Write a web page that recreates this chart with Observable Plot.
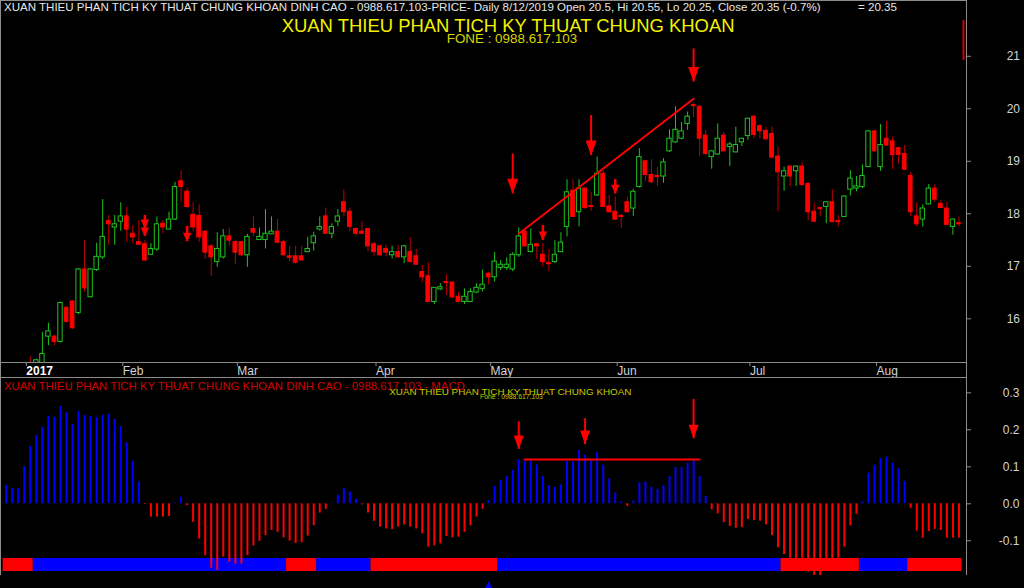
<!DOCTYPE html>
<html><head><meta charset="utf-8">
<script src="https://cdn.jsdelivr.net/npm/d3@7"></script>
<script src="https://cdn.jsdelivr.net/npm/@observablehq/plot@0.6"></script>
<style>
html,body{margin:0;padding:0;background:#000;overflow:hidden}
#wrap{position:relative;width:1024px;height:588px;background:#000;overflow:hidden}
#wrap svg{display:block}
.t{position:absolute;white-space:nowrap;font-family:"Liberation Sans",Arial,sans-serif;line-height:1}
#frame{position:absolute;left:0;top:0;width:965px;height:574px;border:1px solid #8c8c8c;border-bottom:none;pointer-events:none}
</style></head><body><div id="wrap"></div>
<script>
// ---------- DATA ----------
const openP = [14.95,15.00,14.95,15.00,15.15,15.05,15.05,15.66,15.66,15.56,16.21,16.33,16.11,16.94,16.41,16.93,17.17,17.86,17.74,17.85,
17.95,17.62,17.46,17.42,17.22,17.32,17.81,17.70,17.89,18.62,18.42,17.98,17.96,17.66,17.38,17.08,17.17,17.57,17.46,17.46,
17.21,17.71,17.50,17.50,17.61,17.66,17.46,17.19,17.19,17.19,17.27,17.44,17.70,17.95,17.62,17.85,18.22,18.04,17.71,17.66,
17.71,17.42,17.38,17.33,17.21,17.27,17.17,17.27,17.19,16.89,16.81,16.32,16.56,16.70,16.69,16.42,16.32,16.32,16.50,16.57,
16.86,16.79,16.97,16.97,16.94,17.21,17.66,17.27,17.42,17.22,17.06,17.08,17.27,17.75,18.44,18.03,18.48,18.15,18.35,18.76,
18.14,18.04,17.96,18.22,18.10,18.51,19.00,18.74,18.72,18.71,19.19,19.36,19.43,19.71,20.07,20.04,19.49,19.08,19.13,19.49,
19.27,19.17,19.36,19.48,19.85,19.67,19.58,19.52,19.09,18.71,18.90,18.81,18.90,18.57,18.04,18.11,18.13,18.22,17.86,17.94,
18.46,18.48,18.51,18.89,19.57,18.89,19.43,19.38,19.25,19.14,18.72,17.95,17.89,18.18,18.48,18.19,18.10,17.75,17.82];
const highP = [15.05,15.08,15.05,15.10,15.28,15.23,15.74,15.92,15.68,16.32,16.22,16.34,16.96,17.49,16.95,17.44,18.27,17.97,17.97,18.21,
18.12,17.78,17.87,17.49,17.43,17.94,17.87,18.03,18.60,18.82,18.49,18.21,18.17,17.68,17.42,17.64,17.70,17.73,17.49,17.47,
17.61,17.94,17.73,18.08,17.94,17.89,17.50,17.38,17.38,17.38,17.55,17.65,17.94,18.11,17.81,18.08,18.46,18.11,17.73,17.85,
17.72,17.46,17.40,17.40,17.38,17.40,17.40,17.55,17.32,17.02,17.07,16.59,16.67,16.84,16.71,16.50,16.57,16.57,16.67,16.93,
16.89,17.26,17.11,17.16,17.26,17.73,17.68,17.71,17.44,17.43,17.32,17.49,17.64,18.65,18.65,18.65,18.50,18.41,19.08,18.82,
18.35,18.32,17.99,18.32,18.46,19.24,19.02,19.03,18.88,19.05,19.60,20.04,19.74,19.94,20.11,20.06,19.59,19.21,19.71,19.55,
19.36,19.65,19.44,19.82,19.87,19.70,19.65,19.65,19.27,18.89,18.91,18.91,18.97,18.59,18.21,18.13,18.23,18.46,17.97,18.34,
18.82,18.71,18.93,19.58,19.58,19.70,19.76,19.46,19.26,19.30,18.79,18.21,18.17,18.56,18.56,18.25,18.21,17.90,17.94];
const lowP = [14.85,14.90,14.85,14.90,14.90,15.00,15.00,15.49,15.49,15.54,15.92,15.80,16.08,16.51,16.40,16.90,17.13,17.40,17.40,17.67,
17.46,17.43,17.40,17.09,17.21,17.28,17.62,17.70,17.87,18.22,18.10,17.66,17.46,17.13,16.81,16.98,17.14,17.38,17.03,17.19,
16.98,17.57,17.49,17.33,17.61,17.43,17.20,17.09,17.04,17.10,17.26,17.29,17.67,17.61,17.52,17.76,17.94,17.66,17.57,17.61,
17.28,17.19,17.20,17.18,17.14,17.17,17.05,17.07,17.02,16.69,16.31,16.27,16.54,16.44,16.38,16.31,16.27,16.31,16.48,16.51,
16.65,16.70,16.92,16.92,16.90,17.17,17.36,17.26,17.13,16.98,16.90,17.05,17.26,17.56,17.93,17.75,18.08,18.05,18.33,18.12,
18.01,17.87,17.72,18.01,17.95,18.49,18.62,18.58,18.52,18.58,19.17,19.34,19.41,19.59,19.83,19.09,19.11,18.85,19.11,19.17,
18.90,19.16,19.28,19.40,19.43,19.43,19.40,19.05,18.04,18.43,18.52,18.52,18.52,17.87,17.84,17.95,17.81,17.83,17.75,17.93,
18.34,18.42,18.48,18.88,19.18,18.81,19.29,18.84,18.95,18.82,17.95,17.75,17.75,18.17,18.22,18.11,17.78,17.59,17.75];
const closeP = [15.00,14.95,15.00,15.05,15.00,15.21,15.33,15.76,15.56,16.30,15.94,15.82,16.94,16.58,16.94,17.18,17.56,17.80,17.80,17.95,
17.70,17.55,17.41,17.11,17.33,17.80,17.74,17.89,18.51,18.51,18.13,17.74,17.55,17.26,17.17,17.33,17.57,17.49,17.26,17.21,
17.56,17.64,17.56,17.62,17.66,17.45,17.21,17.16,17.07,17.11,17.33,17.57,17.75,17.62,17.75,17.95,18.03,17.75,17.62,17.62,
17.38,17.27,17.21,17.26,17.27,17.17,17.38,17.08,17.03,16.79,16.32,16.59,16.60,16.68,16.41,16.32,16.42,16.51,16.59,16.65,
16.79,17.09,17.03,17.03,17.22,17.57,17.38,17.41,17.38,17.08,17.04,17.22,17.45,18.41,17.94,18.48,18.11,18.13,18.76,18.13,
18.03,17.89,17.94,18.03,18.42,19.08,18.74,18.60,18.70,18.98,19.43,19.60,19.57,19.85,20.05,19.43,19.14,19.19,19.43,19.19,
19.32,19.31,19.43,19.81,19.50,19.57,19.42,19.07,18.79,18.81,18.71,18.90,18.55,18.03,17.85,18.09,18.22,17.84,17.84,18.33,
18.67,18.52,18.72,19.57,19.19,19.31,19.30,19.12,19.12,18.84,18.03,17.80,18.10,18.48,18.27,18.11,17.79,17.89,17.80];
const macdHist = [0.050,0.041,0.041,0.101,0.155,0.185,0.207,0.237,0.233,0.263,0.246,0.214,0.250,0.239,0.236,0.233,0.239,0.243,0.228,0.209,
0.165,0.114,0.059,-0.002,-0.036,-0.036,-0.036,-0.034,0.002,0.018,-0.005,-0.050,-0.095,-0.140,-0.174,-0.180,-0.144,-0.158,-0.163,-0.163,
-0.140,-0.114,-0.101,-0.086,-0.072,-0.077,-0.092,-0.101,-0.107,-0.105,-0.087,-0.059,-0.025,-0.015,0.002,0.023,0.041,0.032,0.012,-0.003,
-0.025,-0.047,-0.063,-0.068,-0.070,-0.063,-0.057,-0.063,-0.068,-0.081,-0.117,-0.114,-0.108,-0.088,-0.092,-0.090,-0.077,-0.060,-0.036,-0.015,
0.009,0.047,0.063,0.074,0.090,0.119,0.115,0.115,0.105,0.074,0.049,0.044,0.051,0.114,0.114,0.144,0.131,0.115,0.139,0.104,
0.067,0.029,0.005,-0.007,0.007,0.057,0.059,0.045,0.039,0.049,0.074,0.098,0.098,0.110,0.117,0.074,0.020,-0.016,-0.027,-0.051,
-0.061,-0.066,-0.064,-0.042,-0.045,-0.047,-0.057,-0.086,-0.119,-0.137,-0.147,-0.149,-0.147,-0.185,-0.194,-0.194,-0.150,-0.150,-0.147,-0.117,
-0.060,-0.028,0.005,0.083,0.104,0.122,0.126,0.110,0.095,0.060,-0.012,-0.074,-0.093,-0.075,-0.069,-0.072,-0.093,-0.093,-0.093];
const monthTicks = [3,19,38,61,80,101,123,144];
const monthLabels = ["2017","Feb","Mar","Apr","May","Jun","Jul","Aug"];
const priceTicks = [16,17,18,19,20,21];
const macdTicks = [-0.1,0,0.1,0.2,0.3];
const stripStart = [0,5,47,52,61,82,129,142,150];
const stripEnd   = [4,46,51,60,81,128,141,149,158];
const stripUp    = [false,true,false,true,false,true,false,true,false];
const trendBars = [85,114];
const trendValues = [17.62,20.19];
const bigArrowBars = [84,97,114];
const bigArrowTop = [19.14,19.87,21.14];
const bigArrowTip = [18.38,19.11,20.51];
const smallArrowBars = [23,23,30,89,101];
const smallArrowTop = [17.97,17.84,17.76,17.78,18.65];
const smallArrowTip = [17.72,17.57,17.47,17.49,18.38];
const macdArrowBars = [85,96,114];
const macdArrowTop = [0.221,0.230,0.282];
const macdArrowTip = [0.147,0.160,0.176];
const macdLineBars = [86,115];
const macdLineValues = [0.12,0.12];
const buyMarkBars = [80];
const buyMarkValues = [-0.2235];
const lastMarkerBar = [158.75];
const lastMarkerRange = [20.92,21.68];
const texts = {
  header: "XUAN THIEU PHAN TICH KY THUAT CHUNG KHOAN DINH CAO - 0988.617.103-PRICE- Daily 8/12/2019 Open 20.5, Hi 20.55, Lo 20.25, Close 20.35 (-0.7%)",
  headerValue: "= 20.35",
  title: "XUAN THIEU PHAN TICH KY THUAT CHUNG KHOAN",
  fone: "FONE : 0988.617.103",
  macdTitle: "XUAN THIEU PHAN TICH KY THUAT CHUNG KHOAN DINH CAO - 0988.617.103 - MACD",
  macdBrand: "XUAN THIEU PHAN TICH KY THUAT CHUNG KHOAN",
  macdFone: "Fone : 0988.617.103"
};

// ---------- LAYOUT ----------
const W = 1024, MR = 58, X0 = 5.7, DX = 6.03;
const xDomain = [(0 - X0) / DX, (W - MR - X0) / DX];
const GREEN = "#1ec31e", RED = "#ff0000", DRED = "#c00000", BLUE = "#0000ff", GREY = "#8c8c8c", LABEL = "#d4d4d4";
const FONT = "Liberation Sans, Arial, sans-serif";
const priceDomain = [20 - (362 - 108.3) / 52.5, 20 + 108.3 / 52.5];
const macdDomain = [(126.3 - 198) / 370, 126.3 / 370];
const STRIP_TOP = (126.3 - 181) / 370, STRIP_BOTTOM = (126.3 - 194) / 370;

const candles = openP.map((o, i) => ({i, o, h: highP[i], l: lowP[i], c: closeP[i]}));
const up = candles.filter(d => d.c >= d.o), down = candles.filter(d => d.c < d.o);
const bigArrows = bigArrowBars.map((b, k) => ({b, top: bigArrowTop[k], tip: bigArrowTip[k]}));
const smallArrows = smallArrowBars.map((b, k) => ({b, top: smallArrowTop[k], tip: smallArrowTip[k]}));
const macdArrows = macdArrowBars.map((b, k) => ({b, top: macdArrowTop[k], tip: macdArrowTip[k]}));
const trend = trendBars.map((b, k) => ({b, v: trendValues[k]}));
const macdLine = macdLineBars.map((b, k) => ({b, v: macdLineValues[k]}));
const macdData = macdHist.map((v, i) => ({i, v}));
const strip = stripStart.map((s, k) => ({s, e: stripEnd[k], up: stripUp[k]}));
const buyMarks = buyMarkBars.map((b, k) => ({b, v: buyMarkValues[k]}));

function head(w, h) {
  return {draw(ctx) { ctx.moveTo(-w / 2, -h); ctx.lineTo(w / 2, -h); ctx.lineTo(0, 0); ctx.closePath(); }};
}
const style = {background: "#000", color: LABEL, fontFamily: FONT, fontSize: "12px", overflow: "visible"};

const price = Plot.plot({
  width: W, height: 377, marginTop: 0, marginRight: MR, marginBottom: 15, marginLeft: 0,
  style,
  x: {domain: xDomain},
  y: {domain: priceDomain},
  marks: [
    Plot.ruleX(candles, {x: "i", y1: "l", y2: "h", stroke: d => d.c >= d.o ? GREEN : DRED, strokeWidth: 1, clip: true}),
    Plot.rect(down, {x1: d => d.i - 0.31, x2: d => d.i + 0.31, y1: "o", y2: "c", fill: RED, stroke: RED, strokeWidth: 1, clip: true}),
    Plot.rect(up, {x1: d => d.i - 0.36, x2: d => d.i + 0.36, y1: "o", y2: "c", fill: "#000", stroke: GREEN, strokeWidth: 1, clip: true}),
    Plot.line(trend, {x: "b", y: "v", stroke: RED, strokeWidth: 2}),
    Plot.ruleX(bigArrows, {x: "b", y1: "top", y2: "tip", stroke: RED, strokeWidth: 2}),
    Plot.dot(bigArrows, {x: "b", y: "tip", symbol: head(11, 15), r: 5, fill: RED, stroke: "none"}),
    Plot.ruleX(smallArrows, {x: "b", y1: "top", y2: "tip", stroke: RED, strokeWidth: 2.5}),
    Plot.dot(smallArrows, {x: "b", y: "tip", symbol: head(8.5, 9), r: 4, fill: RED, stroke: "none"}),
    Plot.ruleX(lastMarkerBar, {x: d => d, y1: lastMarkerRange[0], y2: lastMarkerRange[1], stroke: "#d00000", strokeWidth: 2}),
    Plot.ruleY([priceDomain[0]], {stroke: GREY}),
    Plot.axisY({anchor: "right", ticks: priceTicks, tickSize: 4, tickPadding: 49.5, textAnchor: "end",
      fill: LABEL, stroke: GREY, fontSize: 12, label: null, tickFormat: d => String(d)}),
    Plot.axisX({anchor: "bottom", ticks: monthTicks.slice(1), tickSize: 4, tickPadding: 0, textAnchor: "start", dx: 2,
      fill: LABEL, stroke: GREY, fontSize: 12, label: null, tickFormat: d => monthLabels[monthTicks.indexOf(d)]}),
    Plot.axisX({anchor: "bottom", ticks: monthTicks.slice(0, 1), tickSize: 4, tickPadding: 0, textAnchor: "start", dx: 2,
      fill: "#ffffff", stroke: GREY, fontSize: 12, fontWeight: "bold", label: null, tickFormat: d => monthLabels[monthTicks.indexOf(d)]})
  ]
});

const macd = Plot.plot({
  width: W, height: 211, marginTop: 0, marginRight: MR, marginBottom: 13, marginLeft: 0,
  style,
  x: {domain: xDomain, axis: null},
  y: {domain: macdDomain},
  marks: [
    Plot.ruleY([macdDomain[1]], {stroke: GREY}),
    Plot.rect(strip, {x1: d => d.s - 0.5, x2: d => d.e + 0.5, y1: STRIP_TOP, y2: STRIP_BOTTOM, fill: d => d.up ? BLUE : RED}),
    Plot.ruleX(macdData, {x: "i", y1: 0, y2: "v", stroke: d => d.v >= 0 ? BLUE : RED, strokeWidth: 2}),
    Plot.line(macdLine, {x: "b", y: "v", stroke: RED, strokeWidth: 2}),
    Plot.ruleX(macdArrows, {x: "b", y1: "top", y2: "tip", stroke: RED, strokeWidth: 2}),
    Plot.dot(macdArrows, {x: "b", y: "tip", symbol: head(10, 14), r: 5, fill: RED, stroke: "none"}),
    Plot.dot(buyMarks, {x: "b", y: "v", symbol: "triangle", r: 3.2, fill: BLUE, stroke: "none"}),
    Plot.axisY({anchor: "right", ticks: macdTicks, tickSize: 4, tickPadding: 49, textAnchor: "end",
      fill: LABEL, stroke: GREY, fontSize: 12, label: null, tickFormat: d => d.toFixed(1)})
  ]
});

const wrap = document.getElementById("wrap");
wrap.appendChild(price);
wrap.appendChild(macd);
const frame = document.createElement("div"); frame.id = "frame"; wrap.appendChild(frame);

function place(text, left, width, capCenter, color, weight) {
  const el = document.createElement("div");
  el.className = "t"; el.textContent = text; el.style.color = color;
  if (weight) el.style.fontWeight = weight;
  el.style.fontSize = "100px"; el.style.left = "0px"; el.style.top = "0px";
  wrap.appendChild(el);
  const w = el.getBoundingClientRect().width;
  const fs = 100 * width / w;
  el.style.fontSize = fs + "px";
  el.style.left = left + "px";
  el.style.top = (capCenter - 0.488 * fs) + "px";
}
place(texts.header, 4, 817.7, 7.8, "#e6e6e6");
place(texts.headerValue, 858, 39, 7.8, "#e6e6e6");
place(texts.title, 281.7, 453.3, 26.3, "#f2f200");
place(texts.fone, 446.7, 130.6, 38.5, "#d6d600");
place(texts.macdTitle, 4, 461, 386.3, "#d00000");
place(texts.macdBrand, 389.3, 242.4, 391.7, "#c8c800");
place(texts.macdFone, 480, 63, 397.8, "#c8c800");
</script></body></html>
